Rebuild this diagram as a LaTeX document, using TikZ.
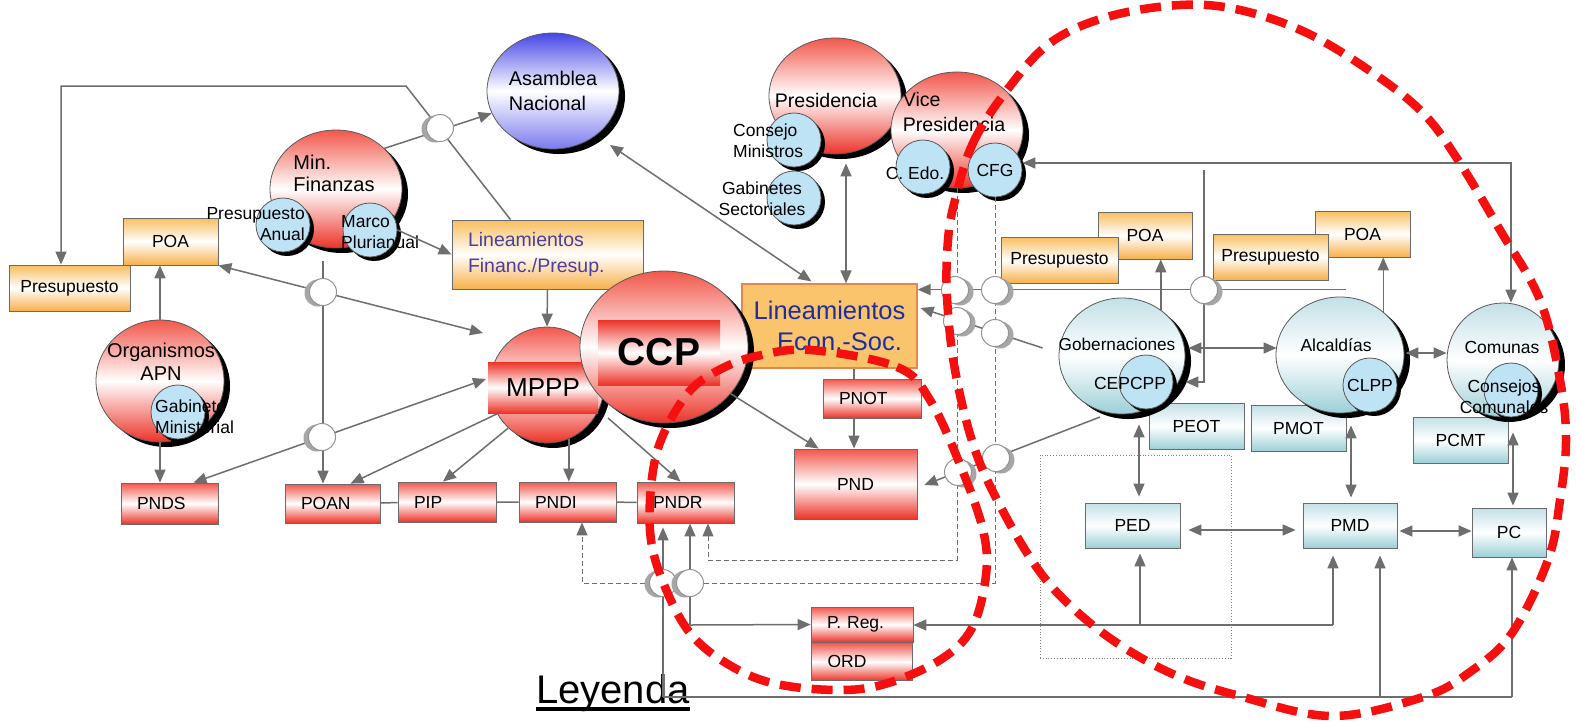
\documentclass[tikz,border=0pt]{standalone}
\usepackage{fontspec}
\setmainfont{Liberation Sans}
\usepackage{tikz}
\usetikzlibrary{arrows.meta,shapes.geometric,shadows,calc,positioning}
\definecolor{lnclr}{HTML}{6E6E6E}
\definecolor{boxedge}{HTML}{6A6A6A}
\definecolor{oratop}{HTML}{F8BE5E}
\definecolor{orabot}{HTML}{F6B04A}
\definecolor{orafill}{HTML}{FAC46C}
\definecolor{oraedge}{HTML}{E4884A}
\definecolor{redtop}{HTML}{F2574C}
\definecolor{redbot}{HTML}{EC3328}
\definecolor{cyantop}{HTML}{C3E0E7}
\definecolor{cyanbot}{HTML}{9CCFD8}
\definecolor{bubblue}{HTML}{BDE3F5}
\definecolor{bluetop}{HTML}{4646E8}
\definecolor{bluebot}{HTML}{7A7AF0}
\definecolor{txtblue}{HTML}{1E2EA0}
\definecolor{txtviolet}{HTML}{4B3E9E}
\definecolor{loopred}{HTML}{F50F0F}
\newcommand{\fsz}[2]{\fontsize{#1}{#2}\selectfont}
\tikzset{orabox/.style={draw=boxedge, line width=0.8pt, top color=oratop, bottom color=orabot, middle color=white, inner sep=0pt, font=\fsz{17.5}{21}}}
\tikzset{redbox/.style={draw=boxedge, line width=0.8pt, top color=redtop, bottom color=redbot, middle color=white, inner xsep=16pt, inner ysep=0pt, text width=#1, align=left, font=\fsz{17.5}{21}}, redbox/.default=65pt}
\tikzset{cyanbox/.style={draw=boxedge, line width=0.8pt, top color=cyantop, bottom color=cyanbot, middle color=white, inner sep=0pt, minimum width=95pt, minimum height=46pt, font=\fsz{17.5}{21}}}
\tikzset{ball/.style={ellipse, draw=black!65, line width=0.8pt, inner sep=0pt, drop shadow={shadow xshift=6pt, shadow yshift=-5pt, opacity=1, fill=black}}}
\tikzset{redball/.style={ball, top color=redtop, bottom color=redbot, middle color=white}}
\tikzset{blueball/.style={ball, top color=bluetop, bottom color=bluebot, middle color=white}}
\tikzset{cyanball/.style={ball, top color=cyantop, bottom color=cyanbot, middle color=white}}
\tikzset{bubble/.style={circle, draw=black!65, line width=0.8pt, fill=bubblue, inner sep=0pt, minimum size=54pt, font=\fsz{17.5}{21}, drop shadow={shadow xshift=4pt, shadow yshift=-4pt, opacity=1, fill=black}}}
\tikzset{band/.style={rectangle, draw=none, top color=redbot, bottom color=redbot, middle color=white, inner sep=0pt}}
\tikzset{ring/.style={circle, draw=gray!85, line width=1pt, fill=white, inner sep=0pt, minimum size=27pt}}
\tikzset{ringL/.style={ring, drop shadow={shadow xshift=-5pt, shadow yshift=-1pt, opacity=1, fill=gray!70}}}
\tikzset{ringR/.style={ring, drop shadow={shadow xshift=5pt, shadow yshift=-2pt, opacity=1, fill=gray!70}}}
\tikzset{txt/.style={inner sep=0pt, font=\fsz{17.5}{21}}}
\tikzset{zone/.style={draw=gray, dotted, line width=0.8pt, inner sep=0pt}}
\tikzset{link/.style={draw=lnclr, line width=1.5pt}}
\tikzset{line/.style={link, ->}}
\tikzset{biline/.style={link, <->}}
\tikzset{dashlink/.style={draw=lnclr, line width=1pt, dash pattern=on 5pt off 3pt}}
\tikzset{zoneloop/.style={draw=loopred, line width=8.5pt, dash pattern=on 21pt off 11pt}}
\begin{document}
\begin{tikzpicture}[x=1pt, y=-1pt, >={Triangle[length=13pt,width=11pt]}]
\path[use as bounding box, fill=white] (0,0) rectangle (1577,721);
\node[zone, minimum width=191pt, minimum height=203pt] (zona) at (1135.5,556.5) {};
%
\node[orabox, minimum width=95pt, minimum height=47pt] (poaL) at (170.5,241.5) {POA};
\node[orabox, minimum width=121pt, minimum height=46pt] (presL) at (69.5,288) {Presupuesto};
\node[orabox, text width=159pt, inner xsep=16pt, minimum height=69pt, align=left, text=txtviolet, font=\fsz{19.5}{26}] (linfin) at (547.5,254.5) {Lineamientos\\Financ./Presup.};
\node[orabox, minimum width=94pt, minimum height=47pt] (poaR1) at (1145,235.5) {POA};
\node[orabox, minimum width=117pt, minimum height=46pt] (presR1) at (1059.5,260) {Presupuesto};
\node[orabox, minimum width=95pt, minimum height=46pt] (poaR2) at (1362.5,234) {POA};
\node[orabox, minimum width=115pt, minimum height=46pt] (presR2) at (1270.5,257) {Presupuesto};
\node[draw=oraedge, fill=orafill, line width=1.2pt, minimum width=175pt, minimum height=84pt, inner sep=0pt, align=center, text=txtblue, font=\fsz{25.5}{31}] (linecon) at (829.5,326) {Lineamientos\\\hspace*{20pt}Econ.-Soc.};
%
\node[redbox, minimum height=41pt] (pnds) at (169.5,503.5) {PNDS};
\node[redbox=63pt, minimum height=39pt] (poan) at (332.5,503.5) {POAN};
\node[redbox=66pt, minimum height=40pt] (pip) at (447,502) {PIP};
\node[redbox, minimum height=40pt] (pndi) at (567.5,502) {PNDI};
\node[redbox, minimum height=41pt] (pndr) at (685.5,502.5) {PNDR};
\node[redbox=66pt, minimum height=39pt] (pnot) at (872,398.5) {PNOT};
\node[redbox=91pt, minimum height=70pt, align=center] (pnd) at (855.5,484) {PND};
\node[redbox=70pt, minimum height=35pt] (preg) at (862,624.5) {P. Reg.};
\node[redbox=69pt, minimum height=38pt, below=0pt of preg] (ord) {ORD};
%
\node[cyanbox] (peot) at (1196.5,426) {PEOT};
\node[cyanbox] (pmot) at (1298.5,428) {PMOT};
\node[cyanbox] (pcmt) at (1460.5,440) {PCMT};
\node[cyanbox, minimum height=45pt] (ped) at (1132.5,525.5) {PED};
\node[cyanbox, minimum width=94pt, minimum height=45pt] (pmd) at (1350,525.5) {PMD};
\node[cyanbox, minimum width=74pt, minimum height=49pt] (pc) at (1509,532.5) {PC};
%
\node[blueball, minimum width=132pt, minimum height=116pt, align=left, font=\fsz{19.8}{25}] (asamblea) at (553,91) {Asamblea\\Nacional};
\node[redball, minimum width=132pt, minimum height=118pt] (minfin) at (336,189) {};
\node[redball, minimum width=128pt, minimum height=122pt] (organismos) at (160,381) {};
\node[redball, minimum width=114pt, minimum height=116pt] (mppp) at (547,385) {};
\node[band, minimum width=110pt, minimum height=51pt, font=\fsz{26}{28}] (mpppband) at (543,387.5) {MPPP};
\node[redball, minimum width=168pt, minimum height=152pt] (ccp) at (664,347) {};
\node[band, minimum width=122pt, minimum height=65pt, font=\fsz{39}{40}\bfseries] (ccpband) at (659,352.5) {CCP};
\node[redball, minimum width=132pt, minimum height=116pt] (presid) at (835,96) {};
\node[redball, minimum width=132pt, minimum height=116pt] (vice) at (957,130) {};
\node[cyanball, minimum width=126pt, minimum height=116pt] (gob) at (1122,356) {};
\node[cyanball, minimum width=128pt, minimum height=116pt] (alc) at (1340,355) {};
\node[cyanball, minimum width=112pt, minimum height=114pt] (com) at (1503,360) {};
%
\node[bubble] (anual) at (283,225) {};
\node[bubble] (marco) at (370,230) {};
\node[bubble] (gabmin) at (178,412) {};
\node[bubble] (consejo) at (794,140) {};
\node[bubble] (gabsec) at (794,198) {};
\node[bubble] (cedo) at (923,167) {};
\node[bubble] (cfg) at (995,170) {CFG};
\node[bubble] (cepcpp) at (1146,382) {};
\node[bubble] (clpp) at (1370,385) {CLPP};
\node[bubble] (conscom) at (1511,390) {};
%
\node[txt, font=\fsz{20}{22}, align=left] (minfintxt) at (334,173) {Min.\\Finanzas};
\node[txt, font=\fsz{20}{23}, align=center] (orgtxt) at (161,362) {Organismos\\APN};
\node[txt, align=right, anchor=east] (anualtxt) at (305,224) {Presupuesto\\Anual};
\node[txt, align=left, anchor=west] (marcotxt) at (341,232) {Marco\\Plurianual};
\node[txt, align=left, anchor=west] (gabmintxt) at (155,417) {Gabinete\\Ministerial};
\node[txt, font=\fsz{19.6}{23}] (presidtxt) at (826,100) {Presidencia};
\node[txt, font=\fsz{19.6}{25}, align=left] (vicetxt) at (954,112) {Vice\\Presidencia};
\node[txt, align=left, anchor=west] (consejotxt) at (733,141) {Consejo\\Ministros};
\node[txt, align=center] (gabsectxt) at (762,199) {Gabinetes\\Sectoriales};
\node[txt] (cedotxt) at (915,173) {C. Edo.};
\node[txt, font=\fsz{17.2}{21}] (gobtxt) at (1117,344) {Gobernaciones};
\node[txt] (alctxt) at (1336,345) {Alcaldías};
\node[txt] (comtxt) at (1502,347) {Comunas};
\node[txt] (cepcpptxt) at (1130,383) {CEPCPP};
\node[txt, align=center] (conscomtxt) at (1504,397) {Consejos\\Comunales};
\node[txt, font=\fsz{40}{42}, anchor=base west] (leyenda) at (536,703) {Leyenda};
\path[draw=black, line width=3.5pt] ($(leyenda.base west)+(0,6)$) -- ($(leyenda.base east)+(0,6)$);
%
\coordinate (fbA) at (406,86);
\coordinate (fbB) at (61,86);
\coordinate (mfdown) at ($(minfin.south)+(-13,13)$);
\coordinate (lc2pn) at ($(linecon.south)+(24.5,0)$);
\coordinate (pv) at ($(presid.south)+(11,9)$);
\coordinate (dAx) at ($(pndr.south)+(22.5,0)$);
\coordinate (dBx) at ($(pndi.south)+(14.5,0)$);
\coordinate (alcTL) at ($(alc.north)+(6,-7)$);
\coordinate (cfgR) at (1511,163);
\coordinate (gvTop) at (1204,170);
\coordinate (rowA) at (1333,625);
\coordinate (rowB) at (1140,625);
\coordinate (rowC) at (690,625);
\coordinate (botL) at (663,697);
\coordinate (botM) at (1380,697);
\coordinate (botR) at (1512,697);
%
\path[line] ($(linfin.north)+(-37,0)$) -- (fbA) -- (fbB) -- (fbB |- presL.north);
\path[line] (minfin.40) -- (asamblea.200);
\path[line] (marco.east) -- (linfin.west);
\path[line] (mfdown) -- (mfdown |- poan.north);
\path[biline] (poaL.south east) -- ($(mppp)+(-64,-52)$);
\path[line] (organismos.north) -- (organismos.north |- poaL.south);
\path[line] (organismos.south) -- (organismos.south |- pnds.north);
\path[biline] ($(pnds.north)+(24,0)$) -- ($(mppp)+(-61,-6)$);
\path[line] (linfin.south) -- (mppp.north);
\path[line] (mppp.210) -- ($(poan.north)+(18,0)$);
\path[line] (mppp.228) -- ($(pip.north)+(-4,0)$);
\path[line] (mppp.-68) -- (mppp.-68 |- pndi.north);
\path[line] ($(mppp)+(61,33)$) -- ($(pndr.north)+(-5,0)$);
\path[link] (poan) -- (pip) (pip) -- (pndi) (pndi) -- (pndr);
\path[line] (ccp.-35) -- ($(pnd.north west)+(25,0)$);
\path[link] (lc2pn) -- (lc2pn |- pnot.north);
\path[line] (lc2pn |- pnot.south) -- (lc2pn |- pnd.north);
\path[biline] ($(asamblea)+(57,54)$) -- ($(linecon.north west)+(70,-2)$);
\path[biline] (pv) -- (pv |- linecon.north);
\path[dashlink, ->] (vice.south) -- (vice.south |- 0,560) -- (dAx |- 0,560) -- (dAx);
\path[dashlink, ->] (cfg.south) -- (cfg.south |- 0,583) -- (dBx |- 0,583) -- (dBx);
\path[line] (alcTL) -- (alcTL -| linecon.east);
\path[line] ($(gob.west)+(-16,-8)$) -- ($(linecon.east)+(3,-18)$);
\path[line] ($(gob)+(-22,61)$) -- ($(pnd.east)+(7,1)$);
\path[biline] (cfgR -| cfg.east) -- (cfgR) -- (cfgR |- com.north);
\path[line] (gvTop) -- (gvTop |- cepcpp) -- ($(cepcpp.east)+(12,0)$);
\path[line] (gob.50) -- (gob.50 |- poaR1.south);
\path[line] (alc.45) -- (alc.45 |- poaR2.south);
\path[biline] ($(gob.east)+(3,-8)$) -- ($(alc.west)+(1,-7)$);
\path[biline] ($(alc.east)+(1,-2)$) -- ($(com.west)+(0,-7)$);
\path[biline] ($(ped.north)+(6.5,-6)$) -- ($(gob.south)+(17,10)$);
\path[biline] ($(pmd.north)+(1,-5)$) -- ($(alc.south)+(11,12)$);
\path[biline] ($(pc.north)+(4,-2)$) -- ($(com.south)+(10,15)$);
\path[biline] ($(ped.east)+(8,4.5)$) -- ($(pmd.west)+(-7,4.5)$);
\path[biline] ($(pmd.east)+(2,5.5)$) -- ($(pc.west)+(0,-1.5)$);
\path[line] (rowA) -- (rowA -| preg.east);
\path[line, shorten >=7pt] (rowA) -- (rowA |- pmd.south);
\path[line, shorten >=5pt] (rowB) -- (rowB |- ped.south);
\path[line] (rowC) -- (preg.west);
\path[line] (rowC) -- (rowC |- pndr.south);
\path[link] (botL) -- (botR);
\path[line] (botR) -- (botR |- pc.south);
\path[line, shorten >=7pt] (botM) -- (botM |- pmd.south);
\path[line, shorten >=4pt] (botL) -- (botL |- pndr.south);
%
\node[ringL] (j1) at (440,128) {};
\node[ringL] (j2) at (323,292) {};
\node[ringL] (j3) at (322,437) {};
\node[ringR] (j4) at (955,290) {};
\node[ringR] (j5) at (995,290) {};
\node[ringR] (j6) at (1204,290) {};
\node[ringR] (j7) at (957,321) {};
\node[ringR] (j8) at (995,333) {};
\node[ringR] (j9) at (958,472) {};
\node[ringR] (j10) at (996,458) {};
\node[ringL] (j11) at (663,583) {};
\node[ringL] (j12) at (690,583) {};
%
\draw[zoneloop] plot[smooth cycle, tension=0.6] coordinates {(811,350) (897,367) (930,400) (961,467) (983,530) (986,575) (972,628) (940,660) (885,684) (836,690) (772,683) (726,663) (690,633) (665,587) (651,540) (651,487) (661,440) (688,393) (719,370) (757,356)};
\draw[zoneloop] plot[smooth cycle, tension=0.6] coordinates {(955,200) (973,143) (1007,90) (1050,43) (1107,17) (1180,5) (1240,10) (1307,33) (1373,73) (1423,113) (1458,160) (1500,230) (1540,300) (1560,380) (1566,440) (1560,500) (1548,560) (1512,633) (1470,672) (1423,697) (1331,716) (1236,695) (1175,675) (1120,645) (1075,610) (1040,572) (1005,515) (975,450) (955,370) (947,297) (948,240)};
\end{tikzpicture}
\end{document}
